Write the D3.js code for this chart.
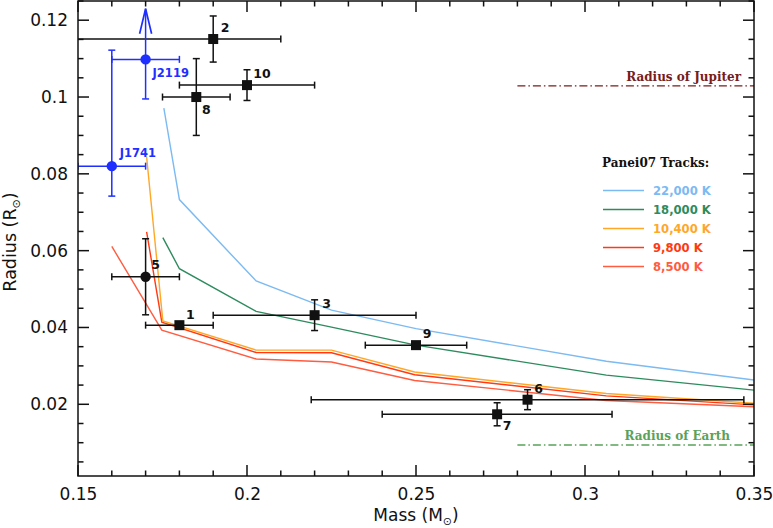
<!DOCTYPE html>
<html><head><meta charset="utf-8">
<script src="https://cdn.jsdelivr.net/npm/d3@7"></script>
<style>body{margin:0;background:#fff}</style>
</head><body><svg id="c" width="773" height="528"></svg>
<script>
// ---------------- data ----------------
const xTickValues = [0.15, 0.2, 0.25, 0.3, 0.35];
const xTickLabels = ["0.15", "0.2", "0.25", "0.3", "0.35"];
const yTickValues = [0.02, 0.04, 0.06, 0.08, 0.1, 0.12];
const yTickLabels = ["0.02", "0.04", "0.06", "0.08", "0.1", "0.12"];

const trackNames = ["22,000 K", "18,000 K", "10,400 K", "9,800 K", "8,500 K"];
const track22000Mass   = [0.1754, 0.1800, 0.2027, 0.2250, 0.2500, 0.3063, 0.3600];
const track22000Radius = [0.0971, 0.0733, 0.0521, 0.0445, 0.0397, 0.0312, 0.0252];
const track18000Mass   = [0.1751, 0.1800, 0.2027, 0.2250, 0.2500, 0.3063, 0.3600];
const track18000Radius = [0.0634, 0.0553, 0.0442, 0.0401, 0.0354, 0.0276, 0.0228];
const track10400Mass   = [0.1703, 0.1751, 0.2027, 0.2250, 0.2496, 0.3063, 0.3600];
const track10400Radius = [0.0844, 0.0417, 0.0341, 0.0341, 0.0284, 0.0228, 0.0197];
const track9800Mass    = [0.1703, 0.1748, 0.2027, 0.2250, 0.2496, 0.3063, 0.3600];
const track9800Radius  = [0.0649, 0.0414, 0.0335, 0.0334, 0.0277, 0.0222, 0.0193];
const track8500Mass    = [0.1600, 0.1748, 0.2027, 0.2250, 0.2496, 0.3063, 0.3600];
const track8500Radius  = [0.0611, 0.0393, 0.0318, 0.0310, 0.0262, 0.0210, 0.0190];

// known objects (black)
const objIds       = ["1", "2", "3", "5", "6", "7", "8", "9", "10"];
const objMass      = [0.180, 0.190, 0.220, 0.170, 0.283, 0.274, 0.185, 0.250, 0.200];
const objMassErrLo = [0.010, 0.050, 0.030, 0.010, 0.064, 0.034, 0.010, 0.015, 0.020];
const objMassErrHi = [0.010, 0.020, 0.030, 0.010, 0.064, 0.034, 0.010, 0.015, 0.020];
const objRadius    = [0.0406, 0.1151, 0.0432, 0.0532, 0.0212, 0.0174, 0.1000, 0.0354, 0.1031];
const objRadErr    = [0.0000, 0.0060, 0.0040, 0.0099, 0.0026, 0.0030, 0.0100, 0.0000, 0.0040];
const objShape     = ["square", "square", "square", "circle", "square", "square", "square", "square", "square"];

// new objects (blue)
const newNames      = ["J2119", "J1741"];
const newMass       = [0.170, 0.160];
const newMassErr    = [0.010, 0.010];
const newRadius     = [0.1098, 0.0820];
const newRadErrLo   = [0.0103, 0.0078];
const newRadErrHi   = [0.0, 0.0302];
const newUpperArrow = [0.123, null];

// reference radii
const refNames  = ["Radius of Jupiter", "Radius of Earth"];
const refRadius = [0.1029, 0.0094];
const refMassFrom = [0.28, 0.28];
const refMassTo   = [0.35, 0.35];

// ---------------- styles / layout ----------------
const trackColors = ["#7cbaf2", "#2e8b5e", "#ffa828", "#ff3a14", "#ff5c40"];
const refColors = ["#781c1c", "#5aa25a"];
const blue = "#1f2fff";
const labelDx = [11, 12, 12, 10, 11, 10, 10, 11, 15];
const labelDy = [-11, -12, -12, -12, -11, 11, 12, -12, -12];
const newLabelDx = [7, 8];
const newLabelDy = [18, -9];
const refLabelRight = [13, 24];

const W = 773, H = 528;
const L = 78, R = 754, T = 1, B = 476;

const svg = d3.select("#c");
const x = d3.scaleLinear().domain([0.15, 0.35]).range([L, R]);
const y = d3.scaleLinear().domain([0.00133, 0.125]).range([B, T]);

svg.append("defs").append("clipPath").attr("id", "clip")
  .append("rect").attr("x", L).attr("y", T).attr("width", R - L).attr("height", B - T);
const plot = svg.append("g").attr("clip-path", "url(#clip)");

// tracks
const tracks = [
  [track22000Mass, track22000Radius],
  [track18000Mass, track18000Radius],
  [track10400Mass, track10400Radius],
  [track9800Mass, track9800Radius],
  [track8500Mass, track8500Radius]
];
const line = d3.line().x(d => x(d[0])).y(d => y(d[1]));
[4, 3, 2, 1, 0].forEach(i => {
  const pts = tracks[i][0].map((m, j) => [m, tracks[i][1][j]]);
  plot.append("path").attr("d", line(pts)).attr("fill", "none")
    .attr("stroke", trackColors[i]).attr("stroke-width", 1.4);
});

// reference lines
refNames.forEach((n, i) => {
  plot.append("line")
    .attr("x1", x(refMassFrom[i])).attr("x2", x(refMassTo[i]))
    .attr("y1", y(refRadius[i])).attr("y2", y(refRadius[i]))
    .attr("stroke", refColors[i]).attr("stroke-width", 1.3)
    .attr("stroke-dasharray", "8,3,1.5,3");
  svg.append("text").text(n)
    .attr("x", x(refMassTo[i]) - refLabelRight[i])
    .attr("y", y(refRadius[i]) - 5)
    .attr("text-anchor", "end")
    .attr("font-family", "DejaVu Serif").attr("font-weight", "bold")
    .attr("font-size", 12).attr("fill", refColors[i]);
});

// error bar helper
function errBar(g, xc, yc, xlo, xhi, ylo, yhi, color, capTop = true) {
  const cap = 3.5;
  g.append("line").attr("x1", x(xlo)).attr("x2", x(xhi)).attr("y1", y(yc)).attr("y2", y(yc))
    .attr("stroke", color).attr("stroke-width", 1.5);
  [xlo, xhi].forEach(v => g.append("line").attr("x1", x(v)).attr("x2", x(v))
    .attr("y1", y(yc) - cap).attr("y2", y(yc) + cap).attr("stroke", color).attr("stroke-width", 1.5));
  if (yhi > ylo) {
    g.append("line").attr("x1", x(xc)).attr("x2", x(xc)).attr("y1", y(ylo)).attr("y2", y(yhi))
      .attr("stroke", color).attr("stroke-width", 1.5);
    const capsAt = capTop ? [ylo, yhi] : [ylo];
    capsAt.forEach(v => g.append("line").attr("x1", x(xc) - cap).attr("x2", x(xc) + cap)
      .attr("y1", y(v)).attr("y2", y(v)).attr("stroke", color).attr("stroke-width", 1.5));
  }
}

// black objects
objIds.forEach((id, i) => {
  const c = "#111";
  errBar(plot, objMass[i], objRadius[i], objMass[i] - objMassErrLo[i], objMass[i] + objMassErrHi[i],
    objRadius[i] - objRadErr[i], objRadius[i] + objRadErr[i], c);
  if (objShape[i] === "square") {
    plot.append("rect").attr("x", x(objMass[i]) - 5).attr("y", y(objRadius[i]) - 5)
      .attr("width", 10).attr("height", 10).attr("fill", c);
  } else {
    plot.append("circle").attr("cx", x(objMass[i])).attr("cy", y(objRadius[i])).attr("r", 5.2).attr("fill", c);
  }
  svg.append("text").text(id)
    .attr("x", x(objMass[i]) + labelDx[i]).attr("y", y(objRadius[i]) + labelDy[i])
    .attr("text-anchor", "middle").attr("dominant-baseline", "central")
    .attr("font-family", "DejaVu Sans").attr("font-weight", "bold").attr("font-size", 12.5)
    .attr("fill", c);
});

// blue objects
newNames.forEach((n, i) => {
  const hasUpper = newUpperArrow[i] !== null;
  const yhi = hasUpper ? newUpperArrow[i] : newRadius[i] + newRadErrHi[i];
  errBar(plot, newMass[i], newRadius[i], newMass[i] - newMassErr[i], newMass[i] + newMassErr[i],
    newRadius[i] - newRadErrLo[i], yhi, blue, !hasUpper);
  if (hasUpper) {
    const tx = x(newMass[i]), ty = y(newUpperArrow[i]);
    plot.append("path").attr("d", `M${tx - 6},${ty + 25} L${tx},${ty} L${tx + 6},${ty + 25}`)
      .attr("fill", "none").attr("stroke", blue).attr("stroke-width", 1.7);
  }
  plot.append("circle").attr("cx", x(newMass[i])).attr("cy", y(newRadius[i])).attr("r", 5.2).attr("fill", blue);
  svg.append("text").text(n)
    .attr("x", x(newMass[i]) + newLabelDx[i]).attr("y", y(newRadius[i]) + newLabelDy[i])
    .attr("font-family", "DejaVu Sans").attr("font-weight", "bold").attr("font-size", 11.5)
    .attr("fill", blue);
});

// legend
const lgX = 602, lgY = 163, lgStep = 19;
svg.append("text").text("Panei07 Tracks:").attr("x", lgX).attr("y", lgY)
  .attr("dominant-baseline", "central")
  .attr("font-family", "DejaVu Serif").attr("font-weight", "bold").attr("font-size", 12).attr("fill", "#111");
trackNames.forEach((n, i) => {
  const yy = lgY + 27.5 + i * lgStep;
  svg.append("line").attr("x1", lgX + 1).attr("x2", lgX + 42).attr("y1", yy).attr("y2", yy)
    .attr("stroke", trackColors[i]).attr("stroke-width", 1.4);
  svg.append("text").text(n).attr("x", lgX + 51).attr("y", yy)
    .attr("dominant-baseline", "central")
    .attr("font-family", "DejaVu Sans").attr("font-weight", "bold").attr("font-size", 11.6)
    .attr("fill", trackColors[i]);
});

// axes frame and ticks
const axG = svg.append("g").attr("stroke", "#111").attr("stroke-width", 1.5);
axG.append("rect").attr("x", L).attr("y", T).attr("width", R - L).attr("height", B - T).attr("fill", "none");
const major = 11, minor = 5.5;
d3.range(0.15, 0.3501, 0.01).forEach(v => {
  const isMajor = xTickValues.some(t => Math.abs(t - v) < 1e-6);
  const len = isMajor ? major : minor;
  axG.append("line").attr("x1", x(v)).attr("x2", x(v)).attr("y1", B).attr("y2", B - len);
  axG.append("line").attr("x1", x(v)).attr("x2", x(v)).attr("y1", T).attr("y2", T + len);
});
d3.range(0.005, 0.1251, 0.005).forEach(v => {
  const isMajor = yTickValues.some(t => Math.abs(t - v) < 1e-6);
  const len = isMajor ? major : minor;
  axG.append("line").attr("x1", L).attr("x2", L + len).attr("y1", y(v)).attr("y2", y(v));
  axG.append("line").attr("x1", R).attr("x2", R - len).attr("y1", y(v)).attr("y2", y(v));
});

// tick labels via d3 axes (lines hidden)
const xAxis = d3.axisBottom(x).tickValues(xTickValues).tickFormat((d, i) => xTickLabels[i]).tickSize(0).tickPadding(12);
const gx = svg.append("g").attr("transform", `translate(0,${B})`).call(xAxis);
const yAxis = d3.axisLeft(y).tickValues(yTickValues).tickFormat((d, i) => yTickLabels[i]).tickSize(0).tickPadding(10);
const gy = svg.append("g").attr("transform", `translate(${L},0)`).call(yAxis);
[gx, gy].forEach(g => {
  g.select(".domain").remove();
  g.selectAll("text").attr("font-family", "DejaVu Sans").attr("font-size", 17).attr("fill", "#111");
});

// axis titles
const xt = svg.append("text").attr("x", 416).attr("y", 521).attr("text-anchor", "middle")
  .attr("font-family", "DejaVu Sans").attr("font-size", 17).attr("fill", "#111");
xt.append("tspan").text("Mass (M");
xt.append("tspan").text("⊙").attr("font-size", 11).attr("dy", 4);
xt.append("tspan").text(")").attr("dy", -4);

const yt = svg.append("text").attr("transform", "translate(16,242) rotate(-90)").attr("text-anchor", "middle")
  .attr("font-family", "DejaVu Sans").attr("font-size", 17.5).attr("fill", "#111");
yt.append("tspan").text("Radius (R");
yt.append("tspan").text("⊙").attr("font-size", 11).attr("dy", 4);
yt.append("tspan").text(")").attr("dy", -4);
</script>
</body></html>
